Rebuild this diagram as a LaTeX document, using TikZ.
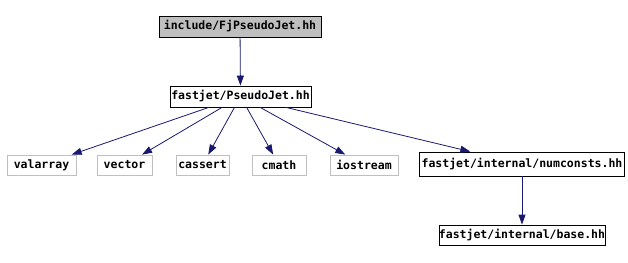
\documentclass[tikz,border=0pt]{standalone}
\usepackage{fontspec}
\setmonofont{DejaVu Sans Mono}
\usetikzlibrary{arrows.meta}
\definecolor{edgeblue}{HTML}{191970}
\definecolor{boxgray}{HTML}{BFBFBF}
\begin{document}
\begin{tikzpicture}[x=1pt, y=-1pt,
        file/.style={draw=black, line width=0.8pt, inner sep=0pt, minimum height=21pt,
            font=\ttfamily\bfseries\fontsize{11.5}{12}\selectfont},
        sysfile/.style={file, draw=boxgray, minimum height=20pt},
        dep/.style={draw=edgeblue, line width=0.8pt, -{Triangle[length=10pt, width=7pt]}}]
        \useasboundingbox (0,0) rectangle (628,262);

        % Fichero documentado
        \node[file, fill=boxgray, minimum width=162pt] (fj) at (240,26.5) {include/FjPseudoJet.hh};

        % Cabecera incluida directamente
        \node[file, minimum width=141pt] (pj) at (240.5,96.5) {fastjet/PseudoJet.hh};
        \draw[dep] (fj) -- (pj);

        % Cabeceras del sistema
        \foreach \name/\x/\w in {valarray/41.5/69pt, vector/124.5/55pt, cassert/202.5/53pt,
                cmath/279/54pt, iostream/364/68pt} {
            \node[sysfile, minimum width=\w] (\name) at (\x,165) {\name};
            \draw[dep] (pj) -- (\name);
        }

        % Cabeceras internas de fastjet
        \node[file, minimum width=205pt, minimum height=24pt] (num) at (522,164) {fastjet/internal/numconsts.hh};
        \node[file, minimum width=162pt, minimum height=20pt] (base) at (522,235) {fastjet/internal/base.hh};
        \draw[dep] (pj) -- (num);
        \draw[dep] (num) -- (base);

    \end{tikzpicture}
\end{document}
